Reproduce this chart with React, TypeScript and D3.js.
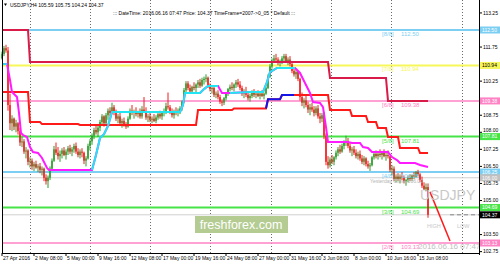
import React from 'react';
import * as d3 from 'd3';

const W = 500;
const H = 265;

// ---- data (USDJPY H4, bar 0 = 27 Apr 2016 16:00) ----
const firstOpen = 111.25;
const closes = [
  111.45, 111.7, 111.6, 109.2, 108.4, 108.6, 108.25, 108.4, 108.05, 107.55,
  107.6, 107.15, 107.2, 106.7, 106.75, 106.5, 106.6, 106.45, 106.5, 106.35,
  106.4, 106.0, 105.85, 106.0, 106.4, 106.75, 107.25, 107.1, 106.95, 107.05,
  107.2, 107.0, 107.15, 107.3, 107.15, 107.25, 107.4, 107.15, 107.0, 107.15,
  107.1, 106.75, 106.85, 107.4, 107.6, 107.85, 108.1, 108.0, 108.2, 108.45,
  108.7, 108.4, 108.75, 108.95, 108.85, 109.1, 108.85, 108.6, 108.7, 108.4,
  108.5, 108.35, 108.25, 108.6, 108.95, 108.85, 108.9, 108.8, 108.9, 108.7,
  109.0, 108.9, 108.65, 108.7, 108.55, 108.6, 108.5, 108.65, 108.8, 108.7,
  108.85, 108.9, 109.15, 109.1, 108.9, 108.75, 108.9, 108.85, 108.95, 109.05,
  109.35, 109.85, 110.15, 109.95, 109.8, 110.0, 109.95, 110.1, 110.2, 110.05,
  110.3, 110.35, 110.4, 110.05, 109.9, 109.95, 109.65, 109.7, 109.55, 109.35,
  109.3, 109.5, 109.7, 109.9, 110.0, 109.95, 110.1, 110.2, 110.1, 109.95,
  109.7, 109.8, 109.65, 109.5, 109.6, 109.75, 109.65, 109.7, 109.6, 109.7,
  109.6, 109.7, 109.95, 110.45, 110.9, 111.15, 111.25, 111.2, 111.05, 111.1,
  111.25, 111.35, 111.1, 111.2, 111.0, 110.7, 110.55, 110.65, 110.35, 109.55,
  109.3, 109.4, 109.2, 109.0, 109.1, 109.0, 108.85, 109.05, 108.7, 108.6,
  108.75, 107.85, 106.7, 106.55, 106.8, 106.7, 106.9, 107.1, 107.25, 107.15,
  107.4, 107.55, 107.6, 107.4, 107.2, 107.25, 107.1, 106.95, 107.05, 106.85,
  106.7, 106.85, 106.6, 106.5, 106.55, 106.9, 107.05, 106.95, 107.05, 107.0,
  107.1, 106.95, 107.0, 106.95, 106.35, 106.4, 105.95, 106.05, 105.95, 106.05,
  106.0, 105.85, 105.9, 106.0, 105.95, 106.1, 106.05, 106.25, 106.15, 105.9,
  105.65, 105.5, 105.59, 104.37,
];
const highs = [
  111.55, 111.8, 111.85, 111.75, 109.7, 108.75, 108.65, 108.55, 108.45, 108.2,
  107.8, 107.7, 107.35, 107.25, 106.9, 106.85, 106.7, 106.75, 106.6, 106.65,
  106.5, 106.45, 106.15, 106.1, 106.5, 106.85, 107.4, 107.55, 107.35, 107.2,
  107.3, 107.35, 107.25, 107.4, 107.45, 107.35, 107.5, 107.55, 107.3, 107.25,
  107.3, 107.15, 106.95, 107.5, 107.7, 107.95, 108.2, 108.35, 108.3, 108.55,
  108.8, 108.75, 108.85, 109.05, 109.1, 109.3, 109.2, 109.0, 108.8, 108.85,
  108.6, 108.65, 108.45, 108.7, 109.05, 109.2, 109.0, 109.1, 108.95, 109.05,
  109.15, 109.55, 109.1, 108.8, 108.85, 108.7, 108.8, 108.75, 108.9, 108.95,
  108.9, 109.05, 109.3, 109.75, 109.2, 109.05, 109.0, 109.1, 109.05, 109.15,
  109.4, 109.95, 110.25, 110.25, 110.1, 110.05, 110.2, 110.15, 110.3, 110.35,
  110.4, 110.45, 110.55, 110.45, 110.15, 110.05, 110.0, 109.8, 109.85, 109.65,
  109.45, 109.55, 109.75, 109.95, 110.1, 110.2, 110.15, 110.3, 110.35, 110.25,
  110.05, 109.9, 110.0, 109.8, 109.7, 109.85, 109.9, 109.8, 109.85, 109.75,
  109.85, 109.75, 110.0, 110.55, 111.0, 111.25, 111.4, 111.45, 111.3, 111.2,
  111.35, 111.45, 111.45, 111.3, 111.35, 111.05, 110.85, 110.75, 110.7, 110.4,
  109.75, 109.5, 109.6, 109.35, 109.25, 109.3, 109.15, 109.15, 109.2, 108.85,
  108.85, 108.9, 107.95, 106.95, 106.9, 107.0, 106.95, 107.2, 107.35, 107.45,
  107.5, 107.65, 107.85, 107.75, 107.55, 107.35, 107.4, 107.25, 107.15, 107.2,
  107.0, 106.95, 106.9, 106.75, 106.65, 106.95, 107.15, 107.2, 107.15, 107.25,
  107.15, 107.25, 107.1, 107.2, 106.95, 106.55, 106.5, 106.15, 106.2, 106.15,
  106.25, 106.1, 105.95, 106.1, 106.15, 106.15, 106.25, 106.3, 106.35, 106.2,
  106.05, 105.8, 105.75, 105.75,
];
const lows = [
  111.2, 111.35, 111.5, 108.95, 108.1, 108.05, 108.1, 108.0, 107.9, 107.4,
  107.35, 107.05, 106.85, 106.55, 106.45, 106.35, 106.3, 106.4, 106.25, 106.2,
  106.1, 105.85, 105.7, 105.55, 105.9, 106.3, 106.7, 107.0, 106.8, 106.7,
  106.85, 106.95, 106.8, 107.0, 107.05, 106.95, 107.1, 107.05, 106.9, 106.85,
  106.9, 106.6, 106.5, 106.8, 107.2, 107.45, 107.7, 107.9, 107.8, 108.05,
  108.3, 108.25, 108.35, 108.55, 108.7, 108.8, 108.75, 108.5, 108.4, 108.3,
  108.2, 108.25, 108.15, 108.2, 108.55, 108.75, 108.6, 108.7, 108.65, 108.6,
  108.6, 108.85, 108.55, 108.45, 108.45, 108.4, 108.45, 108.4, 108.55, 108.6,
  108.55, 108.7, 108.8, 109.0, 108.8, 108.65, 108.6, 108.75, 108.7, 108.8,
  108.95, 109.3, 109.75, 109.85, 109.7, 109.7, 109.85, 109.75, 109.95, 109.95,
  110.0, 110.1, 110.2, 109.95, 109.8, 109.7, 109.55, 109.5, 109.45, 109.25,
  109.15, 109.2, 109.4, 109.6, 109.8, 109.85, 109.8, 109.95, 110.0, 109.85,
  109.6, 109.5, 109.55, 109.4, 109.35, 109.5, 109.55, 109.5, 109.55, 109.45,
  109.55, 109.45, 109.65, 109.9, 110.4, 110.8, 111.05, 111.1, 110.95, 110.9,
  111.0, 111.1, 111.05, 110.95, 110.9, 110.6, 110.45, 110.35, 110.25, 109.4,
  109.15, 109.05, 109.1, 108.85, 108.75, 108.9, 108.7, 108.75, 108.6, 108.4,
  108.45, 107.7, 106.55, 106.4, 106.45, 106.6, 106.55, 106.8, 106.95, 107.05,
  107.1, 107.25, 107.4, 107.3, 107.1, 106.95, 107.0, 106.85, 106.8, 106.75,
  106.6, 106.55, 106.5, 106.4, 106.3, 106.5, 106.8, 106.85, 106.8, 106.9,
  106.8, 106.9, 106.75, 106.85, 106.25, 106.1, 105.85, 105.8, 105.85, 105.75,
  105.9, 105.75, 105.65, 105.8, 105.85, 105.85, 105.95, 106.0, 106.05, 105.8,
  105.55, 105.45, 105.4, 104.24,
];

// upper step line (crimson)
const upperStarts = [0, 14, 164, 193];
const upperLevels = [112.5, 111.09, 110.39, 109.38];
// middle step line (red, blue while rising)
const midStarts = [0, 14, 20, 39, 98, 116, 133, 140, 164, 175, 183, 188, 193, 199, 209];
const midLevels = [109.77, 108.45, 108.36, 108.32, 108.98, 109.05, 109.45, 109.64, 108.98, 108.72, 108.45, 108.19, 107.79, 107.31, 107.09];
const midBlueRange = [132, 146];
// signal line (magenta, cyan when bullish)
const sigBars = [0, 2.5, 4, 5, 6.5, 7.5, 8.5, 9.5, 10.5, 12.5, 14, 15.5, 18, 20, 22.5, 23.5, 45, 47, 49, 51, 53, 55, 89, 90.5, 91.5, 99, 101, 103, 108, 110, 114, 124, 130.5, 132.5, 134, 137.5, 146.5, 149, 151.5, 154, 155.5, 159, 160.5, 162, 163, 173, 175, 179, 180.5, 183, 185, 193, 195, 197.5, 199, 206.5, 209, 213];
const sigValues = [111.0, 111.0, 110.3, 109.77, 109.64, 109.55, 108.85, 107.97, 107.88, 107.79, 107.35, 107.13, 107.09, 106.87, 106.43, 106.34, 106.34, 107.0, 107.75, 107.92, 108.28, 108.89, 108.89, 109.2, 109.73, 109.73, 109.9, 110.04, 110.04, 109.73, 109.73, 109.77, 109.77, 110.21, 110.65, 110.83, 110.83, 110.61, 110.17, 109.73, 109.33, 109.29, 109.11, 108.23, 107.57, 107.57, 107.53, 107.53, 107.35, 107.31, 107.13, 107.13, 106.91, 106.78, 106.65, 106.65, 106.56, 106.47];
const sigBullRanges = [[0, 2.5], [45, 108], [114, 146.5]];
// projection
const projBars = [214, 224];
const projValues = [105.38, 103.22];

// Murrey levels
const levelNames = ['[8/8]', '[7/8]', '[6/8]', '[5/8]', '[4/8]', '[3/8]', '[2/8]'];
const levelValues = [112.5, 110.94, 109.38, 107.81, 106.25, 104.69, 103.13];
const yesterdayClose = 106.0;
const currentPrice = 104.37;

const priceTicks = [113.25, 111.75, 110.25, 108.75, 108.0, 107.25, 106.5, 105.75, 105.0, 103.5, 102.75];
const timeLabels = ['27 Apr 2016', '2 May 08:00', '5 May 00:00', '9 May 16:00', '12 May 08:00', '17 May 00:00', '19 May 16:00', '24 May 08:00', '27 May 00:00', '31 May 16:00', '3 Jun 08:00', '8 Jun 00:00', '10 Jun 16:00', '15 Jun 08:00'];
const timeLabelBars = [0, 16, 32, 48, 64, 80, 96, 112, 128, 144, 160, 176, 192, 208];
const gridBars = [14, 44, 74, 104, 134.5, 164.5, 194.5, 230];

// ---- styles ----
const LEVEL_COLORS = ['#7ccff3', '#f7f75a', '#ff82c4', '#47e447', '#7ccff3', '#47e447', '#ff82c4'];
const C_UP = '#2a9c2a';
const C_DN = '#f01e1e';
const FONT = 'Liberation Sans, Arial, sans-serif';

const PL = 2, PR = 479, PT = 0, PB = 253;

export default function App() {
  const x = d3.scaleLinear().domain([0, 238.5]).range([2, 479]);
  const y = d3.scaleLinear().domain([112.5, 103.13]).range([30, 243]);

  const n = closes.length;
  const opens = closes.map((c, i) => (i === 0 ? firstOpen : closes[i - 1]));

  const stepVal = (starts: number[], levels: number[], i: number) => {
    let v = levels[0];
    for (let k = 0; k < starts.length; k++) if (i >= starts[k]) v = levels[k];
    return v;
  };
  const bars = d3.range(n);
  const line = d3.line<[number, number]>().x((d) => x(d[0])).y((d) => y(d[1]));

  const upperPts = bars.map((i) => [i, stepVal(upperStarts, upperLevels, i)] as [number, number]);
  const midPts = bars.map((i) => [i, stepVal(midStarts, midLevels, i)] as [number, number]);
  const midBlue = midPts.filter((p) => p[0] >= midBlueRange[0] && p[0] <= midBlueRange[1]);
  const sigPts = sigBars.map((b, k) => [b, sigValues[k]] as [number, number]);
  const sigBull = sigBullRanges.map((r) => sigPts.filter((p) => p[0] >= r[0] && p[0] <= r[1]));

  const boxes: { v: number; fill: string; text: string }[] = [
    { v: levelValues[0], fill: LEVEL_COLORS[0], text: '#fff' },
    { v: levelValues[1], fill: LEVEL_COLORS[1], text: '#000' },
    { v: levelValues[2], fill: LEVEL_COLORS[2], text: '#fff' },
    { v: levelValues[3], fill: LEVEL_COLORS[3], text: '#fff' },
    { v: levelValues[4], fill: LEVEL_COLORS[4], text: '#fff' },
    { v: yesterdayClose, fill: '#c0c0c0', text: '#fff' },
    { v: levelValues[5], fill: LEVEL_COLORS[5], text: '#fff' },
    { v: currentPrice, fill: '#000', text: '#fff' },
    { v: levelValues[6], fill: LEVEL_COLORS[6], text: '#fff' },
  ];

  return (
    <svg width={W} height={H} style={{ position: 'absolute', left: 0, top: 0, background: '#fff' }} fontFamily={FONT}>
      <rect x={0} y={0} width={W} height={H} fill="#fff" />
      {/* vertical dotted grid */}
      {gridBars.map((b, k) => (
        <line key={'g' + k} x1={Math.round(x(b)) + 0.5} x2={Math.round(x(b)) + 0.5} y1={PT} y2={PB} stroke="#444" strokeWidth={0.8} strokeDasharray="1,2" />
      ))}
      {/* level lines */}
      <line x1={PL} x2={PR} y1={y(yesterdayClose)} y2={y(yesterdayClose)} stroke="#d0d0d0" strokeWidth={1} />
      <line x1={PL} x2={PR} y1={y(currentPrice)} y2={y(currentPrice)} stroke="#d0d0d0" strokeWidth={1} />
      <line x1={x(224)} x2={PR} y1={y(currentPrice)} y2={y(currentPrice)} stroke="#888" strokeWidth={1} strokeDasharray="4,3" />
      {levelValues.map((v, k) => (
        <line key={'l' + k} x1={PL} x2={PR} y1={y(v)} y2={y(v)} stroke={LEVEL_COLORS[k]} strokeWidth={k === 2 || k === 6 ? 1.5 : 2} />
      ))}
      {/* candles */}
      {bars.map((i) => {
        const o = opens[i];
        const c = closes[i];
        const hi = Math.max(highs[i], o, c);
        const lo = Math.min(lows[i], o, c);
        const col = c >= o ? C_UP : C_DN;
        const cx = x(i);
        return (
          <g key={'c' + i}>
            <line x1={cx} x2={cx} y1={y(hi)} y2={y(lo)} stroke={col} strokeWidth={1} />
            <rect x={cx - 0.75} width={1.5} y={y(Math.max(o, c))} height={Math.max(0.8, y(Math.min(o, c)) - y(Math.max(o, c)))} fill={col} />
          </g>
        );
      })}
      {/* indicator lines */}
      <path d={line(upperPts) || ''} fill="none" stroke="#d81b48" strokeWidth={2} />
      <path d={line(midPts) || ''} fill="none" stroke="#ff1a1a" strokeWidth={2} />
      <path d={line(midBlue) || ''} fill="none" stroke="#1414e6" strokeWidth={2} />
      <path d={line(sigPts) || ''} fill="none" stroke="#ff1aff" strokeWidth={2} />
      {sigBull.map((pts, k) => (
        <path key={'sb' + k} d={line(pts) || ''} fill="none" stroke="#1fe6f2" strokeWidth={2} />
      ))}
      <path d={line(projBars.map((b, k) => [b, projValues[k]] as [number, number])) || ''} fill="none" stroke="#ff1a1a" strokeWidth={1.5} />
      {/* level labels */}
      {levelValues.map((v, k) => (
        <g key={'ll' + k} fill={LEVEL_COLORS[k]} fontSize={6}>
          <text x={382} y={y(v) + 6}>{levelNames[k]}</text>
          <text x={401} y={y(v) + 6}>{v.toFixed(2)}</text>
        </g>
      ))}
      <text x={370} y={y(yesterdayClose) + 5.5} fontSize={5} fill="#b4b4b4">Yesterday Close 106.00</text>
      {/* watermark */}
      <rect x={195} y={216} width={93} height={17} fill="#b4cc92" />
      <text x={241} y={229} fontSize={12.5} fill="#fff" textAnchor="middle">freshforex.com</text>
      {/* symbol texts */}
      <text x={420} y={200} fontSize={14} fill="#c8c8c8">USDJPY</text>
      <text x={427} y={228} fontSize={5.5} fill="#c8c8c8">HIGH</text>
      <text x={457} y={228} fontSize={5.5} fill="#c8c8c8">LOW</text>
      <text x={418} y={249} fontSize={8} fill="#c0c0c0">2016.06.16 07:47</text>
      {/* frame */}
      <line x1={PL + 0.5} x2={PL + 0.5} y1={PT} y2={PB} stroke="#000" />
      <line x1={PR + 0.5} x2={PR + 0.5} y1={PT} y2={PB + 2} stroke="#000" />
      <line x1={PL} x2={PR + 1} y1={PB + 0.5} y2={PB + 0.5} stroke="#000" />
      {/* price axis */}
      {priceTicks.map((t) => (
        <g key={'t' + t}>
          <line x1={PR} x2={PR + 3} y1={y(t)} y2={y(t)} stroke="#000" />
          <text x={483} y={y(t) + (t === 108.0 ? 0.2 : 1.8)} fontSize={5} fill="#000">{t.toFixed(2)}</text>
        </g>
      ))}
      {boxes.map((b, k) => (
        <g key={'b' + k}>
          <rect x={PR + 1} y={y(b.v) - 3.5} width={20} height={7} fill={b.fill} />
          <text x={482} y={y(b.v) + 1.8} fontSize={5} fill={b.text}>{b.v.toFixed(2)}</text>
        </g>
      ))}
      {/* time axis */}
      {timeLabelBars.map((b, k) => (
        <g key={'tl' + k}>
          <line x1={x(b)} x2={x(b)} y1={PB} y2={PB + 3} stroke="#000" />
          <text x={x(b) + 1} y={260} fontSize={5} fill="#000">{timeLabels[k]}</text>
        </g>
      ))}
      {/* header */}
      <path d="M4,3.5 L7,3.5 L5.5,6 Z" fill="#000" />
      <text x={10} y={6.5} fontSize={5} fill="#000">USDJPY,H4  105.59 105.75 104.24 104.37</text>
      <text x={113} y={15} fontSize={5} fill="#000">{'::: DateTime: 2016.06.16 07:47    Price: 104.37    TimeFrame=2007->0_05    * Default :::'}</text>
    </svg>
  );
}
